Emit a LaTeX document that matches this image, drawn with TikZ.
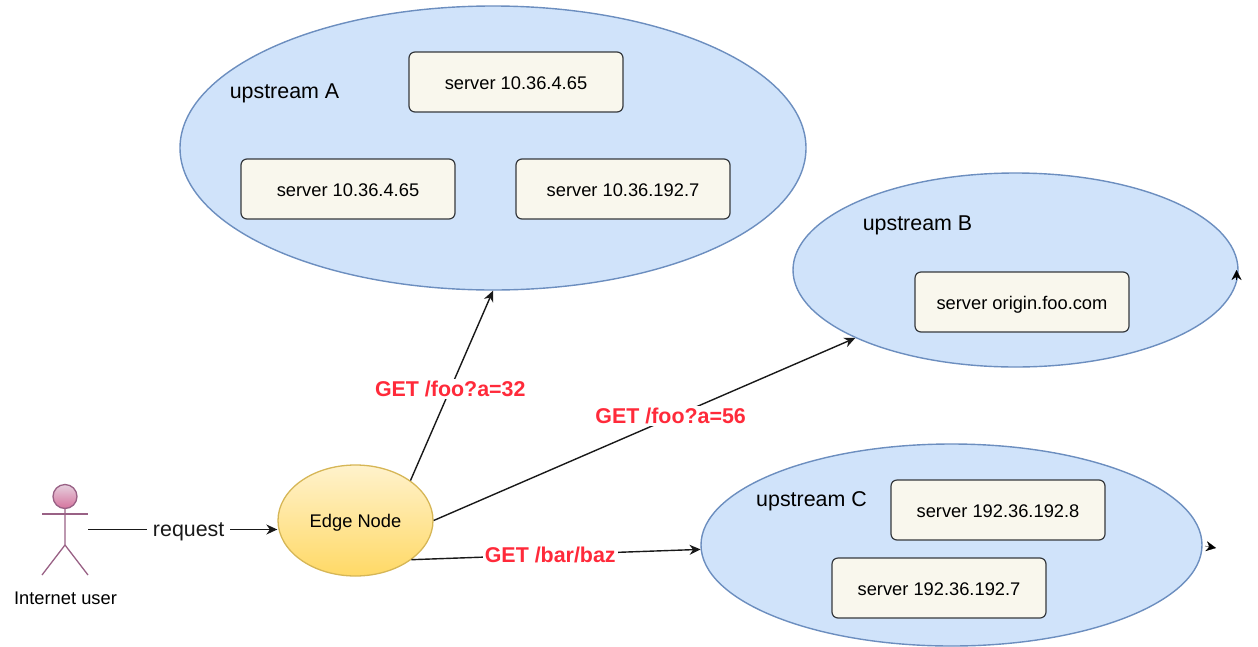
\documentclass[tikz,border=0pt]{standalone}
\usepackage{fontspec}
\setmainfont{Liberation Sans}
\usetikzlibrary{shapes.geometric,arrows.meta}
\definecolor{ublue}{HTML}{D0E3FA}
\definecolor{ubord}{HTML}{6C8EBF}
\definecolor{sfill}{HTML}{F9F7ED}
\definecolor{sbord}{HTML}{36393D}
\definecolor{gred}{HTML}{FF2A3A}
\definecolor{apink}{HTML}{996185}
\definecolor{etop}{HTML}{FFF2CC}
\definecolor{ebot}{HTML}{FFD966}
\definecolor{ebord}{HTML}{D6B656}
\definecolor{atop}{HTML}{E6D0DE}
\definecolor{abot}{HTML}{D5739D}
\tikzset{
  x=1pt,y=-1pt,
  cloud/.style={ellipse,draw=ubord,line width=1.4pt,fill=ublue,inner sep=0pt},
  serverbox/.style={draw=sbord,line width=1.2pt,fill=sfill,rounded corners=6pt,minimum width=214pt,minimum height=60pt,inner sep=0pt,text height=15pt,text depth=0pt,font=\fontsize{18.3}{22}\selectfont},
  grouplabel/.style={font=\fontsize{21.4}{26}\selectfont,inner sep=0pt},
  conn/.style={draw=black!90,line width=1.4pt,-{Stealth[length=11pt,width=10pt]}},
  reqlabel/.style={fill=white,inner sep=2pt,text=gred,font=\bfseries\fontsize{21.4}{26}\selectfont},
  actorline/.style={draw=apink,line width=1.3pt},
  tinytip/.style={draw=black,line width=0.3pt,-{Stealth[length=10pt,width=10pt]}},
}
\begin{document}
\begin{tikzpicture}
\useasboundingbox (0,0) rectangle (1258,646);
\begin{scope}
\clip (0,0) rectangle (1258,646);
\node[cloud,minimum width=626pt,minimum height=284pt] (upA) at (493,148) {};
\node[cloud,minimum width=445pt,minimum height=194pt] (upB) at (1015.5,270) {};
\node[cloud,minimum width=501pt,minimum height=202pt] (upC) at (951.5,545) {};
\end{scope}
\node[grouplabel] (la) at (284.5,93.5) {upstream A};
\node[grouplabel] (lb) at (917.5,225) {upstream B};
\node[grouplabel] (lc) at (811.5,501.5) {upstream C};
\node[serverbox] (a1) at (516,82) {server 10.36.4.65};
\node[serverbox] (a2) at (348,189) {server 10.36.4.65};
\node[serverbox] (a3) at (623,189) {server 10.36.192.7};
\node[serverbox] (b1) at (1022,302) {server origin.foo.com};
\node[serverbox] (c1) at (998,510) {server 192.36.192.8};
\node[serverbox] (c2) at (939,588) {server 192.36.192.7};
\node[ellipse,minimum width=155pt,minimum height=111pt,inner sep=0pt,text height=14pt,text depth=0pt,top color=etop,bottom color=ebot,draw=ebord,line width=1.3pt,font=\fontsize{18.3}{22}\selectfont] (edge) at (355.5,520.5) {Edge Node};
% actor
\node[circle,minimum size=24pt,inner sep=0pt,top color=atop,bottom color=abot,draw=apink,line width=1.3pt] (head) at (65,496.5) {};
\coordinate (neck) at (65,545);
\coordinate (armL) at (42,514);
\coordinate (armR) at (88,514);
\coordinate (legL) at (42,575);
\coordinate (legR) at (88,575);
\draw[actorline] (head.south) -- (neck) -- (legL);
\draw[actorline] (neck) -- (legR);
\draw[actorline] (armL) -- (armR);
\node[inner sep=0pt,font=\fontsize{18.3}{22}\selectfont] (user) at (65.5,598) {Internet user};
\coordinate (reqstart) at (88,529.5);
\draw[conn] (reqstart) -- (edge.west |- reqstart) node[midway,fill=white,inner xsep=6pt,inner ysep=2pt,text height=14pt,text depth=0pt,font=\fontsize{21.4}{26}\selectfont,text=black!90,xshift=6pt] (rq) {request};
\draw[conn] (edge.36.6) -- (upA.south) node[pos=0.47,reqlabel,xshift=1pt,yshift=2pt] (q1) {GET /foo?a=32};
\draw[conn] (edge.east) -- (upB.203) node[pos=0.555,reqlabel,xshift=3pt,yshift=3pt] (q2) {GET /foo?a=56};
\draw[conn] (edge.-35) -- (upC.181) node[pos=0.48,reqlabel] (q3) {GET /bar/baz};
% stray tips
\coordinate (tipB0) at (1236.5,280);
\coordinate (tipB1) at (1236.5,270);
\coordinate (tipC0) at (1205,546);
\coordinate (tipC1) at (1216,548);
\draw[tinytip] (tipB0) -- (tipB1);
\draw[tinytip] (tipC0) -- (tipC1);
\end{tikzpicture}
\end{document}
